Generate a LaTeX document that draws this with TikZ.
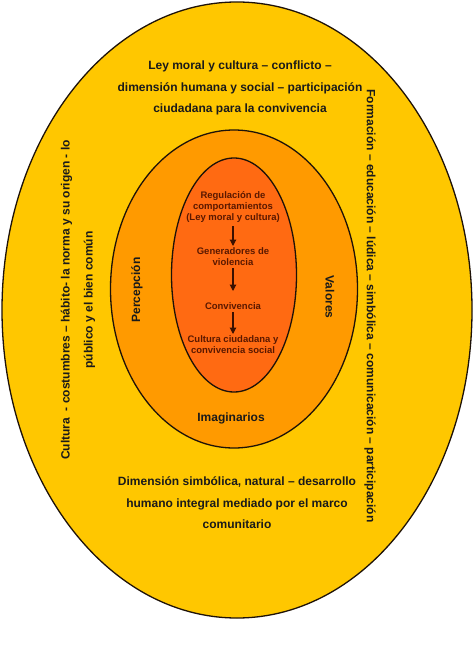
\documentclass[tikz,border=0pt]{standalone}
\usepackage{fontspec}
\setmainfont{Liberation Sans}
\usetikzlibrary{shapes.geometric,arrows.meta}
\definecolor{outerY}{HTML}{FFC700}
\definecolor{midO}{HTML}{FF9A00}
\definecolor{innO}{HTML}{FF6A12}
\definecolor{rimC}{HTML}{1E1208}
\definecolor{txtC}{HTML}{1A1A1A}
\definecolor{innT}{HTML}{5A1800}
\definecolor{arrC}{HTML}{3A1000}
\begin{document}
\begin{tikzpicture}[x=1pt,y=-1pt,
  ring/.style={ellipse,draw=rimC,line width=1.3pt,inner sep=0pt},
  bigtxt/.style={font=\bfseries\fontsize{12}{21.5}\selectfont,text=txtC,align=center,inner sep=0pt},
  smalltxt/.style={font=\bfseries\fontsize{9.5}{11}\selectfont,text=innT,align=center,inner sep=0pt},
  flow/.style={-{Triangle[length=6.5pt,width=6.5pt]},draw=arrC,line width=1.1pt}]
\useasboundingbox (0,0) rectangle (474,652);
\node[ring,fill=outerY,minimum width=470,minimum height=616] (outer) at (237,310) {};
\node[ring,fill=midO,minimum width=247,minimum height=318] (middle) at (234,289) {};
\node[ring,fill=innO,minimum width=125,minimum height=234] (inner) at (234,275) {};

\node[bigtxt] (top) at (240,88) {Ley moral y cultura – conflicto –\\dimensión humana y social – participación\\ciudadana para la convivencia};
\node[bigtxt] (bottom) at (237,503) {Dimensión simbólica, natural – desarrollo\\humano integral mediado por el marco\\comunitario};
\node[bigtxt,rotate=90,font=\bfseries\fontsize{12}{23}\selectfont] (left) at (78,300) {Cultura\ \ - costumbres – hábito- la norma y su origen - lo\\público y el bien común};
\node[bigtxt,rotate=-90] (right) at (370,306) {Formación – educación – lúdica – simbólica – comunicación – participación};

\node[bigtxt,rotate=90] (perc) at (137,290) {Percepción};
\node[bigtxt,rotate=-90] (val) at (330,297) {Valores};
\node[bigtxt] (imag) at (231,418) {Imaginarios};

\node[smalltxt] (reg) at (233,207) {Regulación de\\comportamientos\\(Ley moral y cultura)};
\node[smalltxt] (gen) at (233,257) {Generadores de\\violencia};
\node[smalltxt] (conv) at (233,306) {Convivencia};
\node[smalltxt] (cult) at (233,345) {Cultura ciudadana y\\convivencia social};

\coordinate (a1s) at (233,226); \coordinate (a1e) at (233,246);
\coordinate (a2s) at (233,268); \coordinate (a2e) at (233,291);
\coordinate (a3s) at (233,312); \coordinate (a3e) at (233,334);
\draw[flow] (a1s) -- (a1e);
\draw[flow] (a2s) -- (a2e);
\draw[flow] (a3s) -- (a3e);
\end{tikzpicture}
\end{document}
